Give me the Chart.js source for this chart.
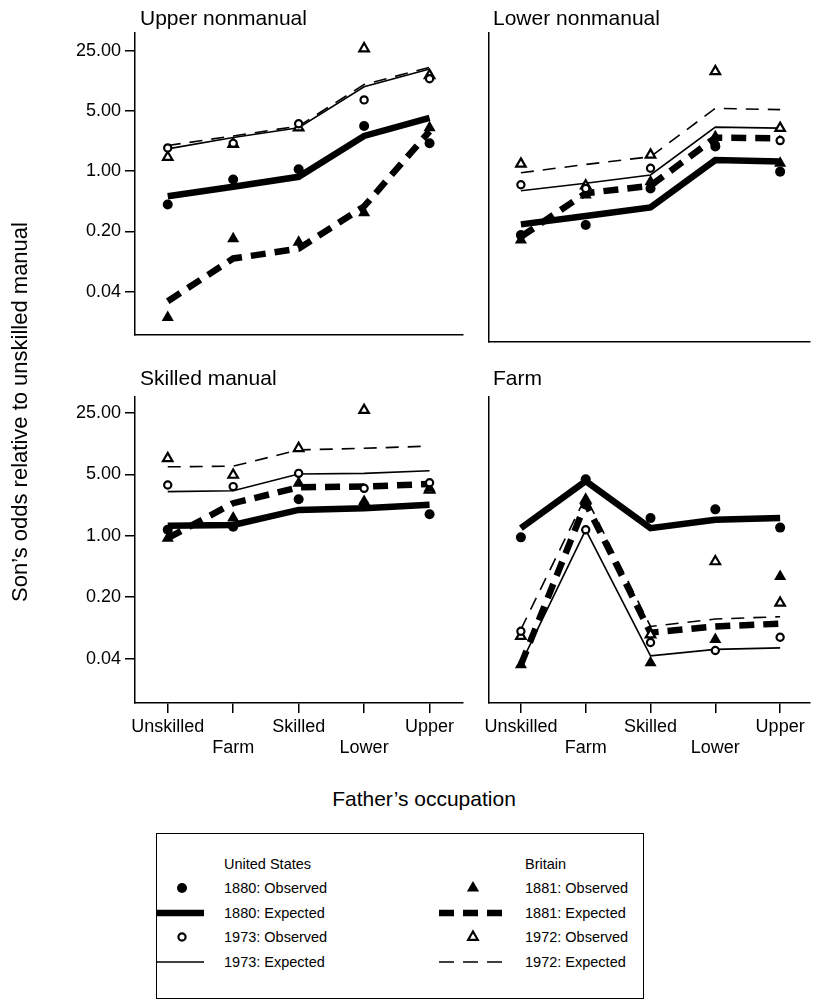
<!DOCTYPE html>
<html>
<head>
<meta charset="utf-8">
<script src="https://cdn.jsdelivr.net/npm/chart.js@4.4.1/dist/chart.umd.min.js"></script>
<style>
  html, body { margin: 0; padding: 0; background: #fff; }
  body { width: 817px; height: 1007px; position: relative; overflow: hidden;
         font-family: "Liberation Sans", Arial, Helvetica, sans-serif; color: #000; }
  canvas { position: absolute; }
  .t { position: absolute; white-space: nowrap; }
  .ptitle { font-size: 21px; line-height: 21px; }
  .leg { font-size: 14.5px; line-height: 16px; }
</style>
</head>
<body>
<canvas id="c0" width="470" height="350" style="left:0;top:0"></canvas>
<canvas id="c1" width="347" height="350" style="left:470px;top:0"></canvas>
<canvas id="c2" width="470" height="420" style="left:0;top:350px"></canvas>
<canvas id="c3" width="347" height="420" style="left:470px;top:350px"></canvas>

<div id="titles"></div>

<div class="t" style="font-size:22px;line-height:24px;width:440px;text-align:center;left:-200px;top:400px;transform:rotate(-90deg);">Son’s odds relative to unskilled manual</div>
<div class="t" style="font-size:21px;line-height:21px;width:300px;text-align:center;left:274px;top:788px;">Father’s occupation</div>

<div id="legend"></div>

<script>
// ---------- categories and ticks ----------
const categories = ['Unskilled', 'Farm', 'Skilled', 'Lower', 'Upper'];
const yTickValues = [0.04, 0.2, 1, 5, 25];
const panelTitles = ['Upper nonmanual', 'Lower nonmanual', 'Skilled manual', 'Farm'];

// ---------- Upper nonmanual ----------
const upper_us1880Obs = [0.41, 0.80, 1.05, 3.33, 2.11];
const upper_us1880Exp = [0.51, 0.66, 0.86, 2.56, 4.14];
const upper_us1973Obs = [1.86, 2.10, 3.54, 6.7, 11.8];
const upper_us1973Exp = [1.81, 2.45, 3.19, 9.5, 15.3];
const upper_br1881Obs = [0.020, 0.164, 0.150, 0.33, 3.19];
const upper_br1881Exp = [0.031, 0.097, 0.126, 0.39, 2.9];
const upper_br1972Obs = [1.45, 2.06, 3.19, 26.4, 12.9];
const upper_br1972Exp = [1.98, 2.56, 3.33, 10.1, 16.0];

// ---------- Lower nonmanual ----------
const lower_us1880Obs = [0.204, 0.266, 0.69, 2.06, 1.07];
const lower_us1880Exp = [0.27, 0.336, 0.42, 1.45, 1.39];
const lower_us1973Obs = [0.76, 0.69, 1.17, 2.15, 2.41];
const lower_us1973Exp = [0.65, 0.79, 0.98, 3.42, 3.33];
const lower_br1881Obs = [0.179, 0.58, 0.82, 2.67, 1.33];
const lower_br1881Exp = [0.195, 0.61, 0.74, 2.6, 2.56];
const lower_br1972Obs = [1.31, 0.74, 1.66, 14.7, 3.33];
const lower_br1972Exp = [1.04, 1.29, 1.58, 5.6, 5.4];

// ---------- Skilled manual ----------
const skilled_us1880Obs = [1.17, 1.27, 2.61, 2.25, 1.76];
const skilled_us1880Exp = [1.30, 1.33, 1.97, 2.06, 2.25];
const skilled_us1973Obs = [3.79, 3.63, 5.14, 3.47, 4.02];
const skilled_us1973Exp = [3.18, 3.26, 5.05, 5.14, 5.5];
const skilled_br1881Obs = [0.94, 1.59, 3.96, 2.45, 3.47];
const skilled_br1881Exp = [0.94, 2.35, 3.57, 3.63, 3.89];
const skilled_br1972Obs = [7.6, 4.92, 9.9, 26.9, 3.33];
const skilled_br1972Exp = [6.1, 6.2, 9.5, 9.9, 10.5];

// ---------- Farm ----------
const farm_us1880Obs = [0.96, 4.4, 1.59, 2.0, 1.24];
const farm_us1880Exp = [1.22, 4.2, 1.22, 1.52, 1.59];
const farm_us1973Obs = [0.082, 1.17, 0.061, 0.0495, 0.070];
const farm_us1973Exp = [0.035, 1.17, 0.043, 0.051, 0.053];
const farm_br1881Obs = [0.034, 2.45, 0.036, 0.066, 0.345];
const farm_br1881Exp = [0.034, 2.35, 0.079, 0.093, 0.10];
const farm_br1972Obs = [0.072, 2.56, 0.075, 0.51, 0.172];
const farm_br1972Exp = [0.086, 2.79, 0.093, 0.113, 0.12];

const FONT = '"Liberation Sans", Arial, Helvetica, sans-serif';

const panels = [
  { id: 'c0', left: true,  bottom: false, obs: [upper_us1880Obs, upper_us1973Obs, upper_br1881Obs, upper_br1972Obs],
    exp: [upper_us1880Exp, upper_us1973Exp, upper_br1881Exp, upper_br1972Exp] },
  { id: 'c1', left: false, bottom: false, obs: [lower_us1880Obs, lower_us1973Obs, lower_br1881Obs, lower_br1972Obs],
    exp: [lower_us1880Exp, lower_us1973Exp, lower_br1881Exp, lower_br1972Exp] },
  { id: 'c2', left: true,  bottom: true, obs: [skilled_us1880Obs, skilled_us1973Obs, skilled_br1881Obs, skilled_br1972Obs],
    exp: [skilled_us1880Exp, skilled_us1973Exp, skilled_br1881Exp, skilled_br1972Exp] },
  { id: 'c3', left: false, bottom: true, obs: [farm_us1880Obs, farm_us1973Obs, farm_br1881Obs, farm_br1972Obs],
    exp: [farm_us1880Exp, farm_us1973Exp, farm_br1881Exp, farm_br1972Exp] }
];

// panel titles (HTML text)
const titlePos = [[140, 7], [493, 7], [140, 367], [493, 367]];
document.getElementById('titles').innerHTML = panelTitles.map((t, i) =>
  '<div class="t ptitle" style="left:' + titlePos[i][0] + 'px;top:' + titlePos[i][1] + 'px">' + t + '</div>').join('');

const toXY = arr => arr.map((v, i) => ({ x: i, y: v }));

// style definitions for the 8 series
const expStyles = [
  { borderWidth: 6.5, borderDash: [] },          // US 1880 expected
  { borderWidth: 1.6, borderDash: [] },          // US 1973 expected
  { borderWidth: 6.5, borderDash: [15, 9] },     // Britain 1881 expected
  { borderWidth: 1.6, borderDash: [13, 9] }      // Britain 1972 expected
];
const obsStyles = [
  { pointStyle: 'circle',   pointRadius: 5,   backgroundColor: '#000', pointBorderWidth: 0 },
  { pointStyle: 'circle',   pointRadius: 3.6, backgroundColor: '#fff', pointBorderWidth: 2.2 },
  { pointStyle: 'triangle', pointRadius: 7,   backgroundColor: '#000', pointBorderWidth: 0 },
  { pointStyle: 'triangle', pointRadius: 5.5, backgroundColor: '#fff', pointBorderWidth: 2.2 }
];
const seriesNames = ['1880', '1973', '1881', '1972'];

panels.forEach(p => {
  const datasets = [];
  p.exp.forEach((arr, k) => {
    datasets.push({
      label: seriesNames[k] + ': Expected',
      data: toXY(arr),
      showLine: true,
      borderColor: '#000',
      borderWidth: expStyles[k].borderWidth,
      borderDash: expStyles[k].borderDash,
      borderCapStyle: 'butt',
      borderJoinStyle: 'miter',
      pointRadius: 0,
      tension: 0,
      fill: false,
      clip: false,
      order: 2
    });
  });
  p.obs.forEach((arr, k) => {
    const s = obsStyles[k];
    datasets.push({
      label: seriesNames[k] + ': Observed',
      data: toXY(arr),
      showLine: false,
      pointStyle: s.pointStyle,
      pointRadius: s.pointRadius,
      pointBackgroundColor: s.backgroundColor,
      pointBorderColor: '#000',
      pointBorderWidth: s.pointBorderWidth,
      clip: false,
      order: 1
    });
  });

  const ctx = document.getElementById(p.id);
  new Chart(ctx, {
    type: 'scatter',
    data: { datasets },
    options: {
      responsive: false,
      animation: false,
      events: [],
      layout: {
        padding: {
          top: p.bottom ? 47 : 33,
          right: p.left ? 2 : 0,
          bottom: p.bottom ? 0 : 8,
          left: 0
        }
      },
      plugins: { legend: { display: false }, tooltip: { enabled: false }, title: { display: false } },
      scales: {
        x: {
          type: 'linear',
          min: -0.5,
          max: p.left ? 4.5 : 4.45,
          afterFit: s => { s.height = p.bottom ? 67 : 0; },
          afterBuildTicks: s => { s.ticks = categories.map((c, i) => ({ value: i })); },
          border: { display: true, color: '#000', width: 1.5 },
          grid: { display: p.bottom, drawOnChartArea: false, drawTicks: true, tickLength: 10, color: '#000', lineWidth: 1.5 },
          ticks: {
            display: p.bottom,
            autoSkip: false,
            maxRotation: 0,
            padding: 4,
            color: '#000',
            font: { family: FONT, size: 18, lineHeight: 1.15 },
            callback: (v, i) => (i % 2 === 1 ? ['', categories[i]] : categories[i])
          }
        },
        y: {
          type: 'logarithmic',
          min: 0.0125,
          max: p.bottom ? 38 : 40,
          afterFit: s => { s.width = p.left ? 135 : 18.5; },
          afterBuildTicks: s => { s.ticks = yTickValues.map(v => ({ value: v })); },
          border: { display: true, color: '#000', width: 1.5 },
          grid: { display: p.left, drawOnChartArea: false, drawTicks: true, tickLength: 10, color: '#000', lineWidth: 1.5 },
          ticks: {
            display: p.left,
            autoSkip: false,
            padding: 4,
            color: '#000',
            font: { family: FONT, size: 18 },
            callback: v => Number(v).toFixed(2)
          }
        }
      }
    }
  });
});

// ---------- legend (HTML + SVG symbols) ----------
const legendLeft = [
  { kind: 'head', text: 'United States' },
  { kind: 'dot', text: '1880: Observed' },
  { kind: 'thick', text: '1880: Expected' },
  { kind: 'ring', text: '1973: Observed' },
  { kind: 'thin', text: '1973: Expected' }
];
const legendRight = [
  { kind: 'head', text: 'Britain' },
  { kind: 'tri', text: '1881: Observed' },
  { kind: 'thickdash', text: '1881: Expected' },
  { kind: 'otri', text: '1972: Observed' },
  { kind: 'thindash', text: '1972: Expected' }
];
const legendRowsY = [864, 888, 913, 937, 962];

function symbolSVG(kind) {
  switch (kind) {
    case 'dot': return '<circle cx="35" cy="10" r="5" fill="#000"/>';
    case 'ring': return '<circle cx="35" cy="10" r="3.6" fill="#fff" stroke="#000" stroke-width="2.2"/>';
    case 'tri': return '<polygon points="35,3 41.1,13.5 28.9,13.5" fill="#000"/>';
    case 'otri': return '<polygon points="35,4.5 39.8,12.8 30.2,12.8" fill="#fff" stroke="#000" stroke-width="2.2"/>';
    case 'thick': return '<line x1="10" y1="10" x2="57" y2="10" stroke="#000" stroke-width="6.5"/>';
    case 'thin': return '<line x1="10" y1="10" x2="57" y2="10" stroke="#000" stroke-width="1.6"/>';
    case 'thickdash': return '<line x1="1" y1="10" x2="69" y2="10" stroke="#000" stroke-width="6.5" stroke-dasharray="15 9"/>';
    case 'thindash': return '<line x1="1" y1="10" x2="69" y2="10" stroke="#000" stroke-width="1.6" stroke-dasharray="15 9"/>';
  }
  return '';
}

let html = '<div style="position:absolute;left:156px;top:833px;width:488px;height:166px;border:1.5px solid #000;box-sizing:border-box;"></div>';
function addColumn(items, symLeft, textLeft) {
  items.forEach((it, r) => {
    const cy = legendRowsY[r];
    if (it.kind !== 'head') {
      html += '<svg style="position:absolute;left:' + symLeft + 'px;top:' + (cy - 10) + 'px" width="70" height="20">' + symbolSVG(it.kind) + '</svg>';
    }
    html += '<div class="t leg" style="left:' + textLeft + 'px;top:' + (cy - 8) + 'px">' + it.text + '</div>';
  });
}
addColumn(legendLeft, 147, 224);
addColumn(legendRight, 438, 525);
document.getElementById('legend').innerHTML = html;
</script>
</body>
</html>
